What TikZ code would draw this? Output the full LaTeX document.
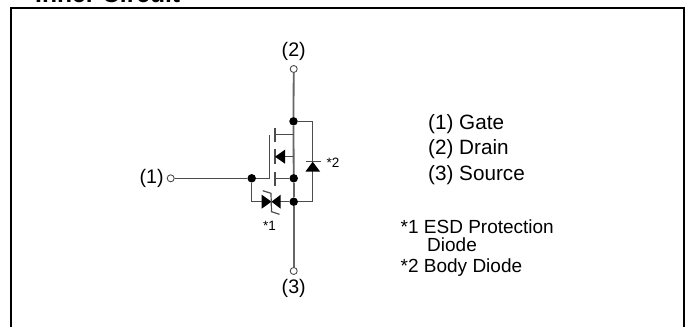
\documentclass[tikz,border=0pt]{standalone}
\usepackage{fontspec}
\setmainfont{Liberation Sans}
\usetikzlibrary{positioning}
\tikzset{
  term/.style={draw=black!70, circle, fill=white, inner sep=0pt, minimum size=7pt, line width=0.9pt},
  junct/.style={circle, fill=black, inner sep=0pt, minimum size=8.5pt},
  lbl/.style={inner sep=0pt, font=\fontsize{19.6}{22}\selectfont},
  small/.style={inner sep=0pt, font=\fontsize{13.5}{15}\selectfont},
  wire/.style={line width=1.8pt, draw=black!60},
  thin wire/.style={line width=1.2pt, draw=black!70},
  legend/.style={inner sep=0pt, anchor=west, font=\fontsize{20.7}{23}\selectfont},
  note/.style={inner sep=0pt, anchor=west, font=\fontsize{19}{21}\selectfont}
}
\begin{document}
\begin{tikzpicture}[x=1pt, y=-1pt]
    \useasboundingbox (0,0) rectangle (688,327);
    \begin{scope}
        \clip (0,0) rectangle (688,327);
        \node[inner sep=0pt, anchor=base west, font=\bfseries\fontsize{24.6}{27}\selectfont] (title) at (35,2.5) {Inner Circuit};
    \end{scope}
    % frame
    \draw[line width=2pt] (11,327) -- (11,7.5) -- (683.5,7.5) -- (683.5,327);

    \node[term] (t2) at (293.7,69) {};
    \node[term] (t1) at (170.7,178.3) {};
    \node[term] (t3) at (293.7,271) {};
    \node[junct] (jd) at (293.5,121.3) {};
    \node[junct] (jg) at (251.7,178.3) {};
    \node[junct] (jb) at (293.7,178.3) {};
    \node[junct] (js) at (293.7,201.7) {};

    \node[lbl, above=4.5pt of t2] (l2) {(2)};
    \node[lbl, left=3pt of t1] (l1) {(1)};
    \node[lbl, below=4.5pt of t3] (l3) {(3)};

    \draw[wire] (t2) -- (jd);
    \draw[wire] (js) -- (t3);
    \draw[wire] (jd) -- (jb);
    \draw[wire] (jb) -- (js);
    \draw[thin wire] (t1) -- (jg);

    % gate
    \coordinate (gtop) at (269.5,135);
    \coordinate (gbot) at (269.5,178.3);
    \draw[thin wire] (jg) -- (gbot) -- (gtop);

    % channel
    \draw[thin wire] (275,128) -- (275,142);
    \draw[thin wire] (275,149) -- (275,164);
    \draw[thin wire] (275,172) -- (275,186);
    \draw[thin wire] (275,134.5) -- (293.7,134.5);
    \draw[thin wire] (275,178.3) -- (jb);
    \draw[thin wire] (284,156.7) -- (293.7,156.7);
    \fill (275,156.7) -- (285,149.7) -- (285,163.7) -- cycle;

    % body diode
    \coordinate (bd) at (312.7,121.3);
    \coordinate (bs) at (312.7,201.7);
    \draw[thin wire] (jd) -- (bd) -- (bs) -- (js);
    \fill (312.7,161.7) -- (305.5,171.5) -- (320,171.5) -- cycle;
    \draw[thin wire] (305.5,161.7) -- (320.5,161.7);
    \node[small, anchor=west] (n2) at (326.5,163) {*2};

    % esd diodes
    \draw[thin wire] (jg) -- (251.7,201.7) -- (js);
    \fill (261.7,194.7) -- (261.7,208.7) -- (271.5,201.7) -- cycle;
    \fill (280.7,194.7) -- (280.7,208.7) -- (271.5,201.7) -- cycle;
    \draw[thin wire] (262.7,190.7) -- (271,193.3) -- (271.5,211.7) -- (279.5,214.3);
    \node[small] (n1) at (269.5,226) {*1};

    \node[legend] (gate) at (428,124) {(1) Gate};
    \node[legend] (drain) at (428,149.5) {(2) Drain};
    \node[legend] (source) at (428,175) {(3) Source};
    \node[note] (esd) at (400.5,227) {*1 ESD Protection};
    \node[note] (diode) at (427,245) {Diode};
    \node[note] (body) at (400.5,268) {*2 Body Diode};
\end{tikzpicture}
\end{document}
